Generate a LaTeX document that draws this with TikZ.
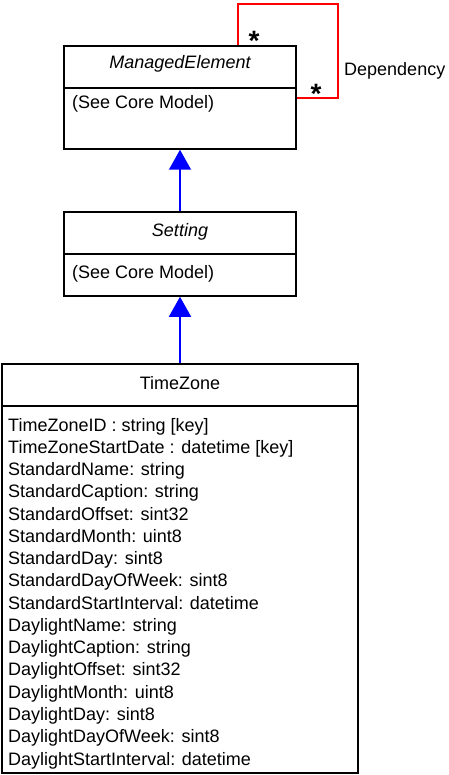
\documentclass[tikz,border=0pt]{standalone}
\usepackage{fontspec}
\setmainfont{Liberation Sans}
\usetikzlibrary{arrows.meta}
\begin{document}
\begin{tikzpicture}[x=1pt,y=-1pt,
  box/.style={draw=black, line width=1.5pt, inner sep=0pt, fill=white},
  title/.style={font=\fontsize{18}{20}\selectfont, anchor=base, inner sep=0pt},
  attr/.style={font=\fontsize{18}{20}\selectfont, anchor=base west, inner sep=0pt},
  inh/.style={draw=blue, line width=1.5pt, -{Triangle[length=20pt,width=22pt,fill=blue]}},
  dep/.style={draw=red, line width=1.3pt},
  star/.style={font=\bfseries\fontsize{28}{28}\selectfont, inner sep=0pt}]
\useasboundingbox (0,0) rectangle (448,775);
% ManagedElement
\node[box, minimum width=232pt, minimum height=42pt] (meh) at (180,67) {};
\node[box, minimum width=232pt, minimum height=61pt] (meb) at (180,118.5) {};
\node[title] (met) at (180,68.5) {\itshape ManagedElement};
\node[attr] (mea) at (72,109) {(See Core Model)};
% Setting
\node[box, minimum width=232pt, minimum height=42pt] (sh) at (180,233) {};
\node[box, minimum width=232pt, minimum height=42pt] (sb) at (180,275) {};
\node[title] (st) at (180,236.5) {\itshape Setting};
\node[attr] (sa) at (72,278) {(See Core Model)};
% TimeZone
\node[box, minimum width=356pt, minimum height=42pt] (th) at (180,385) {};
\node[box, minimum width=356pt, minimum height=367pt] (tb) at (180,589.5) {};
\node[title] (tt) at (180,389.5) {TimeZone};
\foreach \t [count=\i] in {TimeZoneID : string [key], TimeZoneStartDate : datetime [key],
  StandardName: string, StandardCaption: string, StandardOffset: sint32,
  StandardMonth: uint8, StandardDay: sint8, StandardDayOfWeek: sint8,
  StandardStartInterval: datetime, DaylightName: string, DaylightCaption: string,
  DaylightOffset: sint32, DaylightMonth: uint8, DaylightDay: sint8,
  DaylightDayOfWeek: sint8, DaylightStartInterval: datetime}
  \node[attr] (a\i) at (8,{431+(\i-1)*22.27}) {\t};
% inheritance
\draw[inh] (sh.north) -- (meb.south);
\draw[inh] (th.north) -- (sb.south);
% dependency loop
\coordinate (c1) at (238,4);
\coordinate (c2) at (338,4);
\coordinate (c3) at (338,98);
\draw[dep] (meh.north -| c1) -- (c1) -- (c2) -- (c3) -- (c3 -| meb.east);
\node[star] (s1) at (254,41) {*};
\node[star] (s2) at (316,94) {*};
\node[attr] (dl) at (344,76) {Dependency};
\end{tikzpicture}
\end{document}
